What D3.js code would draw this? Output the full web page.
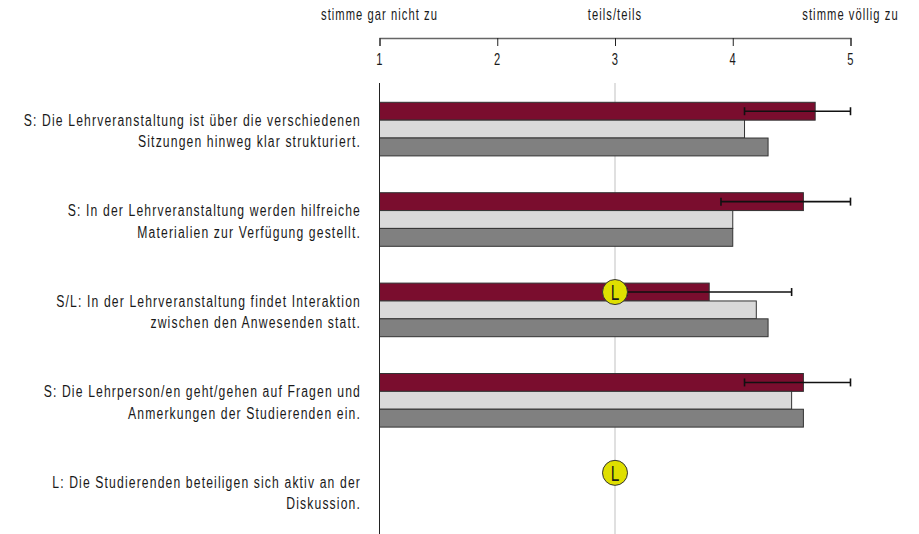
<!DOCTYPE html>
<html>
<head>
<meta charset="utf-8">
<script src="https://cdn.jsdelivr.net/npm/d3@7"></script>
<style>
  body { margin: 0; background: #fff; }
  text { font-family: "Liberation Sans", sans-serif; font-size: 16px; letter-spacing: 1.5px; fill: #1a1a1a; }
</style>
</head>
<body>
<svg id="drawing_region"></svg>
<script>
const categories = [
    ["S: Die Lehrveranstaltung ist über die verschiedenen", "Sitzungen hinweg klar strukturiert."],
    ["S: In der Lehrveranstaltung werden hilfreiche", "Materialien zur Verfügung gestellt."],
    ["S/L: In der Lehrveranstaltung findet Interaktion", "zwischen den Anwesenden statt."],
    ["S: Die Lehrperson/en geht/gehen auf Fragen und", "Anmerkungen der Studierenden ein."],
    ["L: Die Studierenden beteiligen sich aktiv an der", "Diskussion."]
];
const series1 = [4.7, 4.6, 3.8, 4.6, null];
const series2 = [4.1, 4.0, 4.2, 4.5, null];
const series3 = [4.3, 4.0, 4.3, 4.6, null];
const errLow = [4.1, 3.9, 3.1, 4.1, null];
const errHigh = [5, 5, 4.5, 5, null];
const lecturer = [null, null, 3, null, 3];
const ticks = [1, 2, 3, 4, 5];
const scaleLabels = [[1, "stimme gar nicht zu"], [3, "teils/teils"], [5, "stimme völlig zu"]];

const width = 919, height = 534;
const colors = ["#7a0d2e", "#d9d9d9", "#808080"];
// no narrow font installed, squeeze the normal one
const narrow = "scale(0.70,1)";
const narrow_cat = "scale(0.76,1)";

const svg = d3.select("#drawing_region")
    .attr("width", width)
    .attr("height", height)
    .style("display", "block");

const x = d3.scaleLinear().domain([1, 5]).range([379.5, 850.5]);
const y = d3.scaleBand().domain(d3.range(categories.length)).range([83.5, 535.5]);
const y_inner = d3.scaleBand().domain([0, 1, 2]).range([18.8, 72.4]);

// top axis, ticks point down and labels sit under them
const axis = svg.append("g")
    .attr("transform", "translate(0,38)")
    .call(d3.axisBottom(x).tickValues(ticks).tickSize(8).tickPadding(8).tickFormat(d3.format("d")));
axis.select(".domain").attr("stroke", "#666").attr("stroke-width", 1.3);
axis.selectAll(".tick line").attr("stroke", "#222");
axis.selectAll(".tick text")
    .attr("font-family", null).attr("font-size", null)
    .attr("transform", narrow)
    .style("fill", "#1a1a1a");

svg.selectAll(".scale_label")
    .data(scaleLabels)
    .enter()
    .append("text")
    .attr("class", "scale_label")
    .attr("transform", d => `translate(${x(d[0])},20) ${narrow}`)
    .attr("text-anchor", "middle")
    .text(d => d[1]);

// reference line at 3
svg.append("line")
    .attr("x1", x(3)).attr("x2", x(3))
    .attr("y1", 83).attr("y2", 534)
    .attr("stroke", "#cfcfcf")
    .attr("stroke-width", 1.3);

[series1, series2, series3].forEach((values, s) => {
    svg.selectAll(".bar" + s)
        .data(values.map((v, i) => ({ v, i })).filter(d => d.v !== null))
        .enter()
        .append("rect")
        .attr("class", "bar" + s)
        .attr("x", x(1))
        .attr("y", d => y(d.i) + y_inner(s))
        .attr("width", d => x(d.v) - x(1))
        .attr("height", y_inner.bandwidth())
        .attr("fill", colors[s])
        .attr("stroke", "#333")
        .attr("stroke-width", 1);
});

// vertical axis line on top of the bars
svg.append("line")
    .attr("x1", x(1)).attr("x2", x(1))
    .attr("y1", 83).attr("y2", 534)
    .attr("stroke", "#222");

// error bars
const errData = errLow.map((low, i) => ({ low, high: errHigh[i], i })).filter(d => d.low !== null);
const rowY = d => y(d.i) + y_inner(0) + y_inner.bandwidth() / 2;
const err = svg.selectAll(".err").data(errData).enter().append("g").attr("class", "err")
    .attr("stroke", "#111").attr("stroke-width", 1.6);
err.append("line").attr("x1", d => x(d.low)).attr("x2", d => x(d.high)).attr("y1", rowY).attr("y2", rowY);
err.append("line").attr("x1", d => x(d.low)).attr("x2", d => x(d.low)).attr("y1", d => rowY(d) - 4).attr("y2", d => rowY(d) + 4);
err.append("line").attr("x1", d => x(d.high)).attr("x2", d => x(d.high)).attr("y1", d => rowY(d) - 4).attr("y2", d => rowY(d) + 4);

// lecturer markers
const lecturerData = lecturer.map((v, i) => ({ v, i })).filter(d => d.v !== null);
svg.selectAll(".marker")
    .data(lecturerData)
    .enter()
    .append("circle")
    .attr("class", "marker")
    .attr("cx", d => x(d.v))
    .attr("cy", rowY)
    .attr("r", 12.5)
    .attr("fill", "#dfdf00")
    .attr("stroke", "#333")
    .attr("stroke-width", 1);
svg.selectAll(".marker_text")
    .data(lecturerData)
    .enter()
    .append("text")
    .attr("class", "marker_text")
    .attr("transform", d => `translate(${x(d.v)},${rowY(d) + 8}) ${narrow}`)
    .attr("text-anchor", "middle")
    .style("font-size", "22px")
    .style("letter-spacing", "0")
    .text("L");

// category labels, two lines, right aligned
const labels = svg.selectAll(".cat").data(categories).enter().append("text")
    .attr("class", "cat")
    .attr("transform", `translate(361,0) ${narrow_cat}`)
    .attr("text-anchor", "end");
labels.selectAll("tspan")
    .data((d, i) => d.map((line, k) => ({ line, k, i })))
    .enter()
    .append("tspan")
    .attr("x", 0)
    .attr("y", d => y(d.i) + 42.5 + d.k * 21.5)
    .text(d => d.line);
</script>
</body>
</html>
